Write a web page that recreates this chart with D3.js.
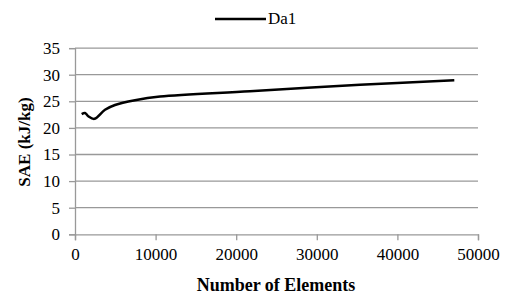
<!DOCTYPE html>
<html>
<head>
<meta charset="utf-8">
<script src="https://cdn.jsdelivr.net/npm/d3@7"></script>
<style>
	body { margin: 0; background: #fff; }
	text { font-family: "Liberation Serif", "Times New Roman", serif; fill: #000; }
</style>
</head>
<body>
<script>
'use strict';

// values
var elements = [830, 1240, 1650, 2400, 3720, 4960, 7440, 10550, 21700, 35360, 47060];
var sae = [22.6, 22.8, 22.2, 21.7, 23.4, 24.3, 25.2, 25.9, 26.9, 28.1, 28.95];
var xTicks = [0, 10000, 20000, 30000, 40000, 50000];
var yTicks = [0, 5, 10, 15, 20, 25, 30, 35];
var seriesName = 'Da1';

var W = 508, H = 295;
var serif = '"Liberation Serif", "Times New Roman", serif';
var svg = d3.select('body').append('svg')
	.attr('width', W).attr('height', H);

var x = d3.scaleLinear().domain([0, 50000]).range([75, 478]);
var y = d3.scaleLinear().domain([0, 35]).range([234.3, 48.1]);

// gridlines
svg.append('g').selectAll('line')
	.data(yTicks.slice(1))
	.enter()
	.append('line')
	.attr('x1', x(0)).attr('x2', x(50000))
	.attr('y1', d => y(d)).attr('y2', d => y(d))
	.attr('stroke', '#999').attr('stroke-width', 1.3);

var yAxis = svg.append('g')
	.attr('transform', 'translate(' + x(0) + ',0)')
	.call(d3.axisLeft(y).tickValues(yTicks).tickSize(6).tickPadding(9).tickFormat(d3.format('d')));

var xAxis = svg.append('g')
	.attr('transform', 'translate(0,' + y(0) + ')')
	.call(d3.axisBottom(x).tickValues(xTicks).tickSize(6).tickPadding(8).tickFormat(d3.format('d')));

[yAxis, xAxis].forEach(function(g) {
	g.attr('font-family', serif);
	g.select('.domain').attr('stroke', '#999').attr('stroke-width', 1.3);
	g.selectAll('.tick line').attr('stroke', '#999').attr('stroke-width', 1.3);
	g.selectAll('.tick text')
		.style('font-family', serif)
		.style('font-size', '17px')
		.attr('fill', '#000');
});

var line = d3.line()
	.x((d, i) => x(elements[i]))
	.y(d => y(d))
	.curve(d3.curveCatmullRom.alpha(0.5));

svg.append('path')
	.datum(sae)
	.attr('d', line)
	.attr('fill', 'none')
	.attr('stroke', '#000')
	.attr('stroke-width', 2.5);

// legend
svg.append('line')
	.attr('x1', 215).attr('x2', 266)
	.attr('y1', 19).attr('y2', 19)
	.attr('stroke', '#000').attr('stroke-width', 2.5);
svg.append('text')
	.attr('x', 268).attr('y', 24)
	.style('font-size', '17px')
	.text(seriesName);

// axis titles
svg.append('text')
	.attr('x', 276).attr('y', 291)
	.attr('text-anchor', 'middle')
	.style('font-size', '18px').style('font-weight', 'bold')
	.text('Number of Elements');

svg.append('text')
	.attr('transform', 'translate(30,142) rotate(-90)')
	.attr('text-anchor', 'middle')
	.style('font-size', '17px').style('font-weight', 'bold')
	.text('SAE (kJ/kg)');
</script>
</body>
</html>
